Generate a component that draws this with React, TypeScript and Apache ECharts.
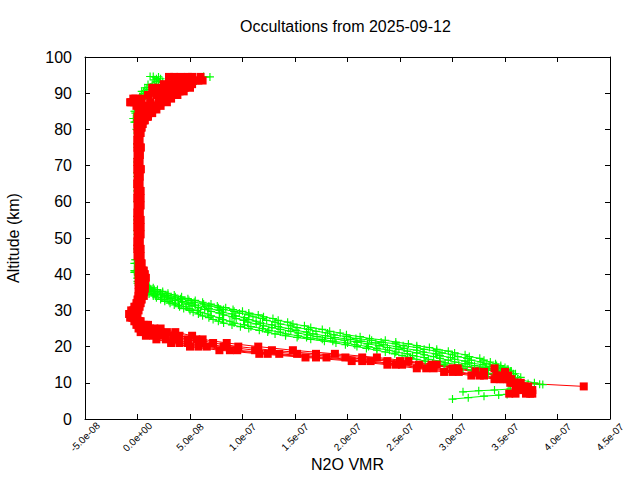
import React, { useEffect, useRef } from "react";
import * as echarts from "echarts";

// ---- texts ----
const TITLE = "Occultations from 2025-09-12";
const X_NAME = "N2O VMR";
const Y_NAME = "Altitude (km)";

// x values are stored in units of 1e-9 (VMR * 1e9)
const X_MIN = -50;
const X_MAX = 450;
const X_STEP = 50;
const xTickLabels = [
  "-5.0e-08", "0.0e+00", "5.0e-08", "1.0e-07", "1.5e-07", "2.0e-07",
  "2.5e-07", "3.0e-07", "3.5e-07", "4.0e-07", "4.5e-07",
];
const Y_MIN = 0;
const Y_MAX = 100;
const Y_STEP = 10;

// ---- green profiles (crosses) ----
const greenAltA = [
  94.6, 94, 93.2, 92.4, 91.5, 90.5, 89, 87, 85, 83, 80, 76, 72, 68, 64, 60, 56, 52, 48, 44, 41, 39, 38,
  37.5, 37, 36.5, 36, 35.5, 35, 34.5, 34, 33.5, 33, 32.5, 32, 31.5, 31, 30.5, 30, 29.5, 29, 28.5, 28,
  27.5, 27, 26.5, 26, 25.5, 25, 24.5, 24, 23.5, 23, 22.5, 22, 21.5, 21, 20.5, 20, 19.5, 19, 18.5, 18,
  17.5, 17, 16.5, 16, 15.5, 15, 14.5, 14,
];
const greenAltB = [
  94.5, 93.7, 93, 92, 91, 90, 88.5, 86.5, 84.5, 82, 79, 75, 71, 67, 63, 59, 55, 51, 47, 43, 40.5, 38.8, 37.9,
  37.25, 36.75, 36.25, 35.75, 35.25, 34.75, 34.25, 33.75, 33.25, 32.75, 32.25, 31.75, 31.25, 30.75,
  30.25, 29.75, 29.25, 28.75, 28.25, 27.75, 27.25, 26.75, 26.25, 25.75, 25.25, 24.75, 24.25, 23.75,
  23.25, 22.75, 22.25, 21.75, 21.25, 20.75, 20.25, 19.75, 19.25, 18.75, 18.25, 17.75, 17.25, 16.75,
  16.25, 15.75, 15.25, 14.75, 14.25, 13.75,
];
const green1 = [
  12, 18, 24, 14, 9, 6, 3, -2, -3, -4, -1, 0, 1, 0, 1, 0, 1, 0, 1, -2, -3, 0, 1,
  1, 2, 5, 6, 9, 10, 15, 17, 23, 26, 30, 36, 39, 46, 49, 57, 60, 67, 70, 78,
  81, 88, 92, 102, 108, 119, 125, 136, 141, 153, 161, 176, 186, 200, 207, 220, 228, 240, 246, 257,
  262, 273, 277, 288, 293, 306, 314, 326,
];
const green3 = [
  63, 52, 40, 53, 30, 18, 10, 3, 1, 0, 1, 0, 1, 0, 1, 0, 1, 0, 1, 0, -2, 2, 2,
  3, 5, 8, 12, 13, 19, 22, 28, 32, 39, 43, 51, 55, 64, 68, 78, 81, 90, 93, 102,
  106, 113, 117, 128, 134, 144, 151, 161, 167, 179, 188, 203, 213, 227, 234, 247, 254, 266, 272, 284,
  288, 298, 302, 312, 316, 329, 335, 344,
];
const green5 = [
  15, 22, 18, 10, 7, 4, 2, -1, -2, -3, 0, 1, 0, 1, 0, 1, 0, 1, 0, -2, -1, 1, 0,
  0, 1, 3, 4, 6, 8, 11, 15, 18, 22, 26, 31, 35, 40, 44, 50, 53, 58, 62, 68,
  72, 77, 82, 90, 98, 106, 116, 124, 131, 141, 152, 165, 178, 189, 198, 209, 218, 228, 236, 245,
  252, 260, 266, 274, 281, 292, 302, 310,
];
const green2 = [
  20, 16, 28, 22, 15, 8, 4, 1, 0, -1, 0, 1, 0, 1, 0, 1, 0, 1, 0, -3, -2, 1, 2,
  3, 5, 9, 10, 14, 16, 22, 26, 31, 36, 42, 47, 52, 58, 64, 70, 78, 82, 90, 94,
  101, 105, 113, 120, 128, 136, 146, 153, 162, 171, 184, 197, 209, 219, 230, 238, 249, 257, 266, 273,
  282, 288, 296, 302, 312, 321, 331, 338,
];
const green4 = [
  69, 47, 36, 26, 20, 12, 6, 2, -2, -3, 0, 1, 0, 0, 1, 1, 0, 1, 0, -1, -3, 0, 3,
  5, 8, 11, 16, 19, 24, 29, 36, 41, 49, 54, 63, 68, 77, 82, 92, 97, 106, 110, 119,
  123, 131, 136, 146, 152, 163, 170, 181, 187, 199, 208, 223, 232, 246, 253, 266, 273, 285, 290, 300,
  305, 314, 318, 327, 332, 342, 346, 352,
];
const green6 = [
  47, 58, 30, 20, 12, 9, 5, 2, 0, -2, 1, 0, 1, 0, 0, 1, 1, 0, 1, 0, -2, 1, 4,
  7, 11, 15, 19, 24, 29, 35, 42, 48, 55, 62, 70, 76, 84, 91, 100, 106, 115, 120, 129,
  134, 143, 148, 159, 165, 176, 183, 193, 199, 212, 221, 236, 246, 258, 266, 278, 285, 296, 302, 312,
  316, 326, 330, 336, 341, 346, 350, 353,
];
// lowest points of each green profile: [altitude km, value]
const green1Low = [[13.5, 334], [13, 342], [12.5, 348], [11.5, 352], [10.5, 360], [9.8, 372], [9.5, 386]];
const green2Low = [[13.25, 343], [12.5, 350], [11, 353], [8.3, 355], [8, 340], [7.8, 325], [7.5, 310]];
const green3Low = [[13.5, 348], [12.5, 352], [10.5, 354], [6.8, 352], [6.6, 344], [6.3, 330], [5.9, 315], [5.5, 300]];
const green4Low = [[13.25, 355], [12.5, 358], [11, 362], [10, 378], [9.6, 383]];
const green5Low = [[13.5, 318], [13, 326], [12.5, 334], [12, 341], [11.5, 347]];
const green6Low = [[13.25, 356], [12.5, 360], [11.5, 365]];

// ---- red profiles (squares), on a shared altitude grid ----
const redAlt = [
  94.5, 93.5, 92.5, 91.5, 90.5, 89.5, 88.5, 87.5, 86.5, 85.5, 84.5, 83.5, 82.5, 81.5, 80.5,
  79, 77, 75, 73, 71, 69, 67, 65, 63, 61, 59, 57, 55, 53, 51, 49, 47, 45, 43, 41,
  40, 39, 38, 37, 36, 35, 34, 33, 32, 31, 30, 29, 28, 27, 26, 25, 24, 23, 22, 21,
  20, 19, 18, 17, 16, 15, 14, 13, 12, 11, 10, 9, 8, 7,
];
const red1 = [
  41, 58, 44, 38, 24, 18, -4, -6, 14, 3, 11, 6, 1, 3, 2,
  1, 0, 1, 0, 1, 0, 1, 0, 1, 0, 1, 0, 1, 0, 1, 0, 1, 1, 2, 2,
  3, 4, 3, 4, 5, 4, 3, 2, 1, -1, -3, -6, -5, 0, 3, 6, 13, 22, 35, 48,
  66, 95, 135, 180, 222, 252, 282, 306, 330, 348, 358, 364, 368, 370,
];
const red2 = [
  30, 48, 36, 20, 28, 22, -2, -7, 9, 5, 2, 0, 2, 0, 1,
  0, 1, 0, 1, 0, 1, 0, 1, 0, 1, 0, 1, 0, 1, 0, 1, 0, 1, 2, 1,
  2, 1, 2, 1, 2, 1, 1, 0, -1, -2, -4, -8, -7, -3, -1, 1, 3, 8, 18, 32,
  50, 78, 116, 160, 204, 238, 266, 292, 318, 340, 360, 425,
];
const red3 = [
  52, 42, 52, 45, 36, 33, 20, 22, 18, 9, 6, 4, 5, 2, 3,
  1, 2, 1, 2, 1, 2, 1, 2, 1, 2, 1, 2, 1, 2, 1, 2, 1, 2, 3, 6,
  5, 6, 5, 7, 6, 5, 6, 4, 3, 2, 1, -1, -2, 1, 6, 12, 22, 34, 48, 62,
  82, 112, 152, 198, 238, 268, 340, 350, 353, 356, 362, 368, 372, 376,
];
const red4 = [
  35, 62, 25, 30, 16, 10, 26, 12, -1, 14, 4, 9, 3, 4, 0,
  2, 0, 3, 1, 2, 0, 2, 1, 3, 0, 2, 1, 3, 0, 2, 1, 3, 0, 1, 3,
  4, 3, 6, 5, 3, 6, 2, 3, 2, 0, -2, -4, 0, 3, 8, 16, 28, 40, 56, 72,
  96, 128, 170, 214, 250, 280, 300, 322, 342, 352, 365, 372, 376, 374,
];
const red5 = [
  60, 38, 48, 14, 40, 28, 4, -3, 6, 1, 8, 2, 6, 1, 4,
  3, 1, 0, 2, 0, 3, 1, 0, 2, 1, 3, 0, 2, 1, 3, 0, 2, 3, 4, 5,
  7, 8, 4, 3, 7, 3, 4, 1, 0, -3, -6, -7, -4, -1, 1, 3, 8, 15, 27, 40,
  58, 88, 124, 170, 214, 246, 275, 300, 326, 345, 355, 360, 366, 354,
];
const red6 = [
  48, 55, 30, 50, 44, 38, 32, 28, 22, 18, 14, 10, 7, 5, 3,
  2, 1, 3, 2, 1, 3, 2, 0, 2, 3, 1, 2, 0, 3, 1, 2, 0, 2, 3, 4,
  6, 5, 7, 6, 4, 5, 3, 2, 1, 0, -1, -3, -1, 2, 10, 22, 36, 52, 62, 85,
  115, 148, 188, 228, 258, 285, 305, 330, 346, 354, 358, 362, 366, 360,
];

const RED = "#ff0000";
const GREEN = "#00ff00";
const FONT = "'Liberation Sans', Arial, Helvetica, sans-serif";
const CROSS = "path://M3,0H4V3H7V4H4V7H3V4H0V3H3Z";

const fromColumns = (alts: number[], vals: number[]) =>
  vals.map((v, i) => [v, alts[i]]);
const fromPairs = (pairs: number[][]) => pairs.map((p) => [p[1], p[0]]);

function profileSeries(data: number[][], color: string, symbol: string, size: number) {
  return {
    type: "line",
    data,
    xAxisIndex: 0,
    yAxisIndex: 0,
    symbol,
    symbolSize: size,
    showAllSymbol: true,
    showSymbol: true,
    silent: true,
    clip: true,
    lineStyle: { color, width: 1 },
    itemStyle: { color, borderWidth: 0 },
    emphasis: { disabled: true },
  };
}

const axisLineStyle = { color: "#000", width: 1 };

export default function App() {
  const ref = useRef<HTMLDivElement>(null);
  useEffect(() => {
    document.body.style.margin = "0";
    const chart = echarts.init(ref.current!, null, { renderer: "svg" });
    const greenData = [
      fromColumns(greenAltA, green1).concat(fromPairs(green1Low)),
      fromColumns(greenAltB, green2).concat(fromPairs(green2Low)),
      fromColumns(greenAltA, green3).concat(fromPairs(green3Low)),
      fromColumns(greenAltB, green4).concat(fromPairs(green4Low)),
      fromColumns(greenAltA, green5).concat(fromPairs(green5Low)),
      fromColumns(greenAltB, green6).concat(fromPairs(green6Low)),
    ];
    const redData = [red1, red2, red3, red4, red5, red6].map((r) => fromColumns(redAlt, r));
    chart.setOption({
      animation: false,
      backgroundColor: "#fff",
      title: {
        text: TITLE,
        left: 240,
        top: 18,
        padding: 0,
        textStyle: { fontSize: 16, fontWeight: "normal", color: "#000", fontFamily: FONT },
      },
      grid: { left: 85, right: 30, top: 57, bottom: 61, containLabel: false, outerBoundsMode: "none" },
      xAxis: [
        {
          type: "value",
          position: "bottom",
          min: X_MIN,
          max: X_MAX,
          interval: X_STEP,
          name: X_NAME,
          nameLocation: "middle",
          nameGap: 37,
          nameMoveOverlap: false,
          nameTextStyle: { fontSize: 16, color: "#000", fontFamily: FONT },
          splitLine: { show: false },
          axisLine: { show: true, onZero: false, lineStyle: axisLineStyle },
          axisTick: { show: true, inside: true, length: 5, lineStyle: axisLineStyle },
          axisLabel: {
            rotate: 45,
            align: "center",
            verticalAlign: "middle",
            margin: 18,
            fontSize: 10,
            color: "#000",
            fontFamily: FONT,
            showMinLabel: true,
            showMaxLabel: true,
            hideOverlap: false,
            formatter: (v: number) => xTickLabels[Math.round((v - X_MIN) / X_STEP)] ?? "",
          },
        },
        {
          type: "value",
          position: "top",
          min: X_MIN,
          max: X_MAX,
          interval: X_STEP,
          splitLine: { show: false },
          axisLine: { show: true, onZero: false, lineStyle: axisLineStyle },
          axisTick: { show: true, inside: true, length: 5, lineStyle: axisLineStyle },
          axisLabel: { show: false },
        },
      ],
      yAxis: [
        {
          type: "value",
          position: "left",
          min: Y_MIN,
          max: Y_MAX,
          interval: Y_STEP,
          name: Y_NAME,
          nameLocation: "middle",
          nameGap: 64,
          nameMoveOverlap: false,
          nameTextStyle: { fontSize: 16, color: "#000", fontFamily: FONT },
          splitLine: { show: false },
          axisLine: { show: true, onZero: false, lineStyle: axisLineStyle },
          axisTick: { show: true, inside: true, length: 5, lineStyle: axisLineStyle },
          axisLabel: { margin: 13, fontSize: 16, color: "#000", fontFamily: FONT, showMinLabel: true, showMaxLabel: true },
        },
        {
          type: "value",
          position: "right",
          min: Y_MIN,
          max: Y_MAX,
          interval: Y_STEP,
          splitLine: { show: false },
          axisLine: { show: true, onZero: false, lineStyle: axisLineStyle },
          axisTick: { show: true, inside: true, length: 5, lineStyle: axisLineStyle },
          axisLabel: { show: false },
        },
      ],
      series: [
        ...greenData.map((d) => profileSeries(d, GREEN, CROSS, 8)),
        ...redData.map((d) => profileSeries(d, RED, "rect", 8)),
      ],
    });
    return () => chart.dispose();
  }, []);
  return <div ref={ref} style={{ width: 640, height: 480 }} />;
}
